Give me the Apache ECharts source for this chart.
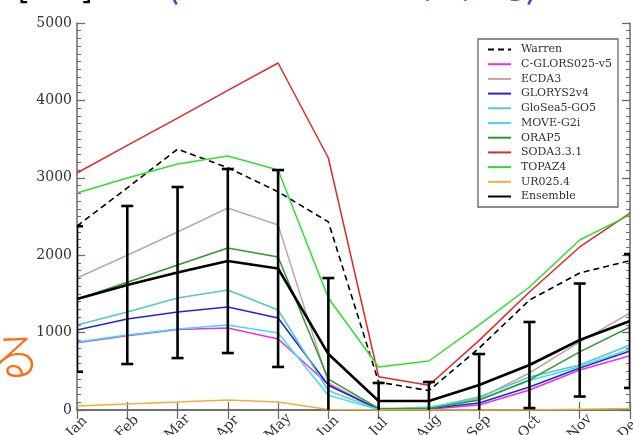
<!DOCTYPE html>
<html>
<head>
<meta charset="utf-8">
<script src="https://cdn.jsdelivr.net/npm/echarts@6/dist/echarts.min.js"></script>
<style>
html,body{margin:0;padding:0;background:#fff;}
#chart{width:633px;height:435px;}
</style>
</head>
<body>
<div id="chart"></div>
<script>
const months = ['Jan','Feb','Mar','Apr','May','Jun','Jul','Aug','Sep','Oct','Nov','Dec'];
const yTicks = [0, 1000, 2000, 3000, 4000, 5000];

const warren   = [2377, 2870, 3370, 3130, 2820, 2430, 360, 250, 800, 1420, 1770, 1930];
const cglors   = [870, 960, 1040, 1060, 917, 330, 10, 10, 65, 258, 517, 700];
const ecda3    = [1705, 2000, 2300, 2610, 2390, 350, 10, 20, 150, 478, 880, 1253];
const glorys   = [1034, 1176, 1266, 1331, 1189, 320, 10, 20, 90, 297, 543, 762];
const glosea   = [1098, 1266, 1447, 1550, 1292, 250, 5, 30, 168, 426, 581, 840];
const move     = [879, 969, 1047, 1098, 995, 190, 5, 40, 130, 380, 560, 790];
const orap5    = [1430, 1650, 1873, 2093, 1977, 400, 20, 20, 130, 388, 750, 1072];
const soda     = [3062, 3420, 3770, 4130, 4483, 3256, 430, 320, 900, 1525, 2106, 2545];
const topaz    = [2804, 2997, 3178, 3282, 3100, 1447, 555, 633, 1100, 1589, 2196, 2520];
const ur025    = [52, 78, 103, 129, 103, 5, 0, 0, 0, 0, 10, 20];
const ensemble = [1434, 1615, 1776, 1925, 1828, 723, 116, 116, 323, 581, 904, 1150];
const ensErr   = [940, 1021, 1105, 1189, 1272, 982, 233, 246, 400, 556, 730, 865];

const names = ['Warren','C-GLORS025-v5','ECDA3','GLORYS2v4','GloSea5-GO5','MOVE-G2i','ORAP5','SODA3.3.1','TOPAZ4','UR025.4','Ensemble'];
const colors = ['#000000','#e633e6','#c4a4a4','#2525d8','#52c8c8','#3de0ee','#2f9a2f','#dd2a2a','#2ee02e','#f2ae3c','#000000'];
const values = [warren, cglors, ecda3, glorys, glosea, move, orap5, soda, topaz, ur025, ensemble];

const errData = months.map((m, i) => [i, ensemble[i] - ensErr[i], ensemble[i] + ensErr[i]]);

const chart = echarts.init(document.getElementById('chart'), null, {renderer: 'canvas'});

const axisColor = '#6a6a6a';
const serif = 'DejaVu Serif';

const lineSeries = names.map((n, k) => ({
  name: n,
  type: 'line',
  data: values[k],
  symbol: 'none',
  showSymbol: false,
  xAxisIndex: 0, yAxisIndex: 0,
  color: colors[k],
  lineStyle: {
    color: colors[k],
    width: n === 'Ensemble' ? 2.6 : (n === 'Warren' ? 1.6 : 1.5),
    type: n === 'Warren' ? [6, 4] : 'solid'
  },
  z: n === 'Ensemble' ? 5 : 3,
  animation: false
}));

const option = {
  animation: false,
  grid: {left: 77, right: 3, top: 23, bottom: 25, containLabel: false, outerBoundsMode: 'none'},
  legend: {
    data: names,
    orient: 'vertical',
    left: 478, top: 39,
    padding: [5, 6, 5, 9],
    itemWidth: 23, itemHeight: 10, itemGap: 3.7,
    borderColor: '#666', borderWidth: 1.3,
    backgroundColor: '#fff',
    itemStyle: {opacity: 0},
    textStyle: {fontFamily: serif, fontSize: 11, color: '#333', padding: [0, 0, 0, 5]},
    selectedMode: false
  },
  xAxis: [{
    type: 'category', data: months, boundaryGap: false, position: 'bottom',
    axisLine: {lineStyle: {color: axisColor, width: 1.5}},
    axisTick: {inside: true, length: 8, lineStyle: {color: axisColor, width: 1.3}, alignWithLabel: true},
    axisLabel: {rotate: 45, align: 'center', verticalAlign: 'middle', margin: 17, fontFamily: serif, fontSize: 14, color: '#333', interval: 0},
    splitLine: {show: false}
  }, {
    type: 'category', data: months, boundaryGap: false, position: 'top',
    axisLine: {lineStyle: {color: axisColor, width: 1.5}},
    axisTick: {inside: true, length: 9, lineStyle: {color: axisColor, width: 1.3}},
    axisLabel: {show: false},
    splitLine: {show: false}
  }],
  yAxis: [{
    type: 'value', min: yTicks[0], max: yTicks[yTicks.length - 1], interval: 1000, position: 'left',
    axisLine: {show: true, lineStyle: {color: axisColor, width: 1.5}},
    axisTick: {show: true, inside: true, length: 8, lineStyle: {color: axisColor, width: 1.3}},
    minorTick: {show: true, splitNumber: 10, length: 4, lineStyle: {color: axisColor, width: 1}},
    axisLabel: {fontFamily: serif, fontSize: 14, color: '#333', margin: 5, formatter: v => String(v)},
    splitLine: {show: false}
  }, {
    type: 'value', min: yTicks[0], max: yTicks[yTicks.length - 1], interval: 1000, position: 'right',
    axisLine: {show: true, lineStyle: {color: axisColor, width: 1.5}},
    axisTick: {show: true, inside: true, length: 8, lineStyle: {color: axisColor, width: 1.3}},
    minorTick: {show: true, splitNumber: 10, length: 4, lineStyle: {color: axisColor, width: 1}},
    axisLabel: {show: false},
    splitLine: {show: false}
  }],
  series: lineSeries.concat([{
    name: 'err',
    type: 'custom',
    data: errData,
    clip: true,
    z: 6,
    renderItem: function (params, api) {
      const x = api.value(0);
      const lo = api.coord([x, api.value(1)]);
      const hi = api.coord([x, api.value(2)]);
      const cw = 6;
      return {
        type: 'group',
        children: [
          {type: 'line', shape: {x1: lo[0], y1: lo[1], x2: hi[0], y2: hi[1]}, style: {stroke: '#000', lineWidth: 2.6}},
          {type: 'line', shape: {x1: hi[0] - cw, y1: hi[1], x2: hi[0] + cw, y2: hi[1]}, style: {stroke: '#000', lineWidth: 2.6}},
          {type: 'line', shape: {x1: lo[0] - cw, y1: lo[1], x2: lo[0] + cw, y2: lo[1]}, style: {stroke: '#000', lineWidth: 2.6}}
        ]
      };
    }
  }]),
  graphic: [
    {type: 'text', x: 18, y: 4, style: {text: '[km³]', font: '30px "Noto Sans"', fill: '#000', verticalAlign: 'bottom', align: 'left'}},
    {type: 'text', x: 166, y: 2, style: {text: '(1993 – 2010 年平均)', font: '40px "Noto Sans CJK JP"', fill: '#7a30b8', verticalAlign: 'bottom', align: 'left'}},
    {type: 'text', x: -9, y: 356, style: {text: 'る', font: '300 50px "Noto Sans CJK JP"', fill: '#ff6a10', verticalAlign: 'middle', align: 'left'}}
  ]
};
chart.setOption(option);
</script>
</body>
</html>
